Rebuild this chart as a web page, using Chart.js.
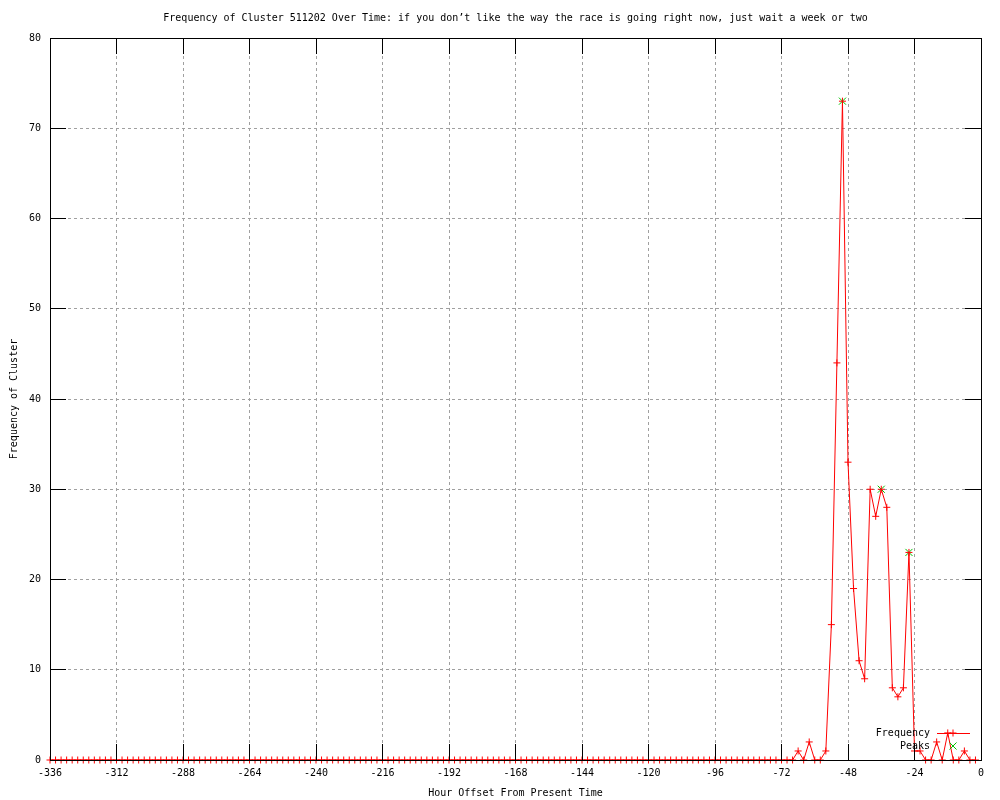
<!DOCTYPE html>
<html lang="en">
<head>
<meta charset="utf-8">
<title>Frequency of Cluster 511202 Over Time</title>
<script src="https://cdn.jsdelivr.net/npm/chart.js@4.4.0/dist/chart.umd.min.js"></script>
<style>
    html, body { margin: 0; padding: 0; background: #fff; }
    #wrap { width: 1000px; height: 800px; }
</style>
</head>
<body>
<div id="wrap"><canvas id="clusterChart"></canvas></div>

<script type="text/javascript">

    const titleText = "Frequency of Cluster 511202 Over Time: if you don\u2019t like the way the race is going right now, just wait a week or two";

    // hour offsets, one sample every 2 hours
    const hours = [
        -336, -334, -332, -330, -328, -326, -324, -322, -320, -318, -316, -314,
        -312, -310, -308, -306, -304, -302, -300, -298, -296, -294, -292, -290,
        -288, -286, -284, -282, -280, -278, -276, -274, -272, -270, -268, -266,
        -264, -262, -260, -258, -256, -254, -252, -250, -248, -246, -244, -242,
        -240, -238, -236, -234, -232, -230, -228, -226, -224, -222, -220, -218,
        -216, -214, -212, -210, -208, -206, -204, -202, -200, -198, -196, -194,
        -192, -190, -188, -186, -184, -182, -180, -178, -176, -174, -172, -170,
        -168, -166, -164, -162, -160, -158, -156, -154, -152, -150, -148, -146,
        -144, -142, -140, -138, -136, -134, -132, -130, -128, -126, -124, -122,
        -120, -118, -116, -114, -112, -110, -108, -106, -104, -102, -100, -98,
        -96, -94, -92, -90, -88, -86, -84, -82, -80, -78, -76, -74,
        -72, -70, -68, -66, -64, -62, -60, -58, -56, -54, -52, -50,
        -48, -46, -44, -42, -40, -38, -36, -34, -32, -30, -28, -26,
        -24, -22, -20, -18, -16, -14, -12, -10, -8, -6, -4, -2
    ];

    const frequency = [
        0, 0, 0, 0, 0, 0, 0, 0, 0, 0, 0, 0,
        0, 0, 0, 0, 0, 0, 0, 0, 0, 0, 0, 0,
        0, 0, 0, 0, 0, 0, 0, 0, 0, 0, 0, 0,
        0, 0, 0, 0, 0, 0, 0, 0, 0, 0, 0, 0,
        0, 0, 0, 0, 0, 0, 0, 0, 0, 0, 0, 0,
        0, 0, 0, 0, 0, 0, 0, 0, 0, 0, 0, 0,
        0, 0, 0, 0, 0, 0, 0, 0, 0, 0, 0, 0,
        0, 0, 0, 0, 0, 0, 0, 0, 0, 0, 0, 0,
        0, 0, 0, 0, 0, 0, 0, 0, 0, 0, 0, 0,
        0, 0, 0, 0, 0, 0, 0, 0, 0, 0, 0, 0,
        0, 0, 0, 0, 0, 0, 0, 0, 0, 0, 0, 0,
        0, 0, 0, 1, 0, 2, 0, 0, 1, 15, 44, 73,
        33, 19, 11, 9, 30, 27, 30, 28, 8, 7, 8, 23,
        1, 1, 0, 0, 2, 0, 3, 0, 0, 1, 0, 0
    ];

    const peakHours = [-50, -36, -26];
    const peakValues = [73, 30, 23];

    const frequencyColor = "#ff0000";
    const peakColor = "#00c000";
    const gridColor = "#a0a0a0";
    const ticLength = 16;

    Chart.defaults.font.family = "'DejaVu Sans Mono', monospace";
    Chart.defaults.font.size = 10;
    Chart.defaults.color = "#000";

    function crisp(p) {
        return Math.round(p - 0.5) + 0.5;
    }

    // gnuplot style: border, inward tics on all four sides, key, title
    const gnuplotFrame = {
        id: "gnuplotFrame",
        afterDatasetsDraw(chart) {
            const ctx = chart.ctx;
            const a = chart.chartArea;
            const x = chart.scales.x;
            const y = chart.scales.y;

            ctx.save();
            ctx.strokeStyle = "#000";
            ctx.lineWidth = 1;
            ctx.beginPath();
            x.ticks.forEach(t => {
                const px = crisp(x.getPixelForValue(t.value));
                ctx.moveTo(px, a.bottom);
                ctx.lineTo(px, a.bottom - ticLength);
                ctx.moveTo(px, a.top);
                ctx.lineTo(px, a.top + ticLength);
            });
            y.ticks.forEach(t => {
                const py = crisp(y.getPixelForValue(t.value));
                ctx.moveTo(a.left, py);
                ctx.lineTo(a.left + ticLength, py);
                ctx.moveTo(a.right, py);
                ctx.lineTo(a.right - ticLength, py);
            });
            ctx.stroke();
            ctx.strokeRect(crisp(a.left), crisp(a.top), Math.round(a.right - a.left), Math.round(a.bottom - a.top));

            // key
            const font = Chart.helpers.toFont(Chart.defaults.font);
            const keyTextX = a.right - 51;
            const keyRow1 = a.bottom - 27;
            const keyRow2 = a.bottom - 14;
            ctx.font = font.string;
            ctx.fillStyle = "#000";
            ctx.textAlign = "right";
            ctx.textBaseline = "middle";
            ctx.fillText("Frequency", keyTextX, keyRow1);
            ctx.fillText("Peaks", keyTextX, keyRow2);

            ctx.strokeStyle = frequencyColor;
            ctx.beginPath();
            ctx.moveTo(a.right - 44, crisp(keyRow1));
            ctx.lineTo(a.right - 11, crisp(keyRow1));
            ctx.stroke();
            Chart.helpers.drawPoint(ctx, {pointStyle: "cross", radius: 3.5, borderWidth: 1}, a.right - 28, keyRow1);
            ctx.strokeStyle = peakColor;
            Chart.helpers.drawPoint(ctx, {pointStyle: "crossRot", radius: 5, borderWidth: 1}, a.right - 28, keyRow2);

            // title
            ctx.textAlign = "center";
            ctx.fillText(titleText, (a.left + a.right) / 2, 18);
            ctx.restore();
        }
    };

    new Chart("clusterChart", {
        type: "line",
        data: {
            datasets: [
                {
                    label: "Frequency",
                    data: hours.map((h, i) => ({x: h, y: frequency[i]})),
                    borderColor: frequencyColor,
                    backgroundColor: frequencyColor,
                    borderWidth: 1,
                    tension: 0,
                    pointStyle: "cross",
                    pointRadius: 3.5,
                    pointHoverRadius: 3.5,
                    pointBorderWidth: 1,
                    clip: false
                },
                {
                    label: "Peaks",
                    data: peakHours.map((h, i) => ({x: h, y: peakValues[i]})),
                    showLine: false,
                    borderColor: peakColor,
                    backgroundColor: peakColor,
                    pointStyle: "crossRot",
                    pointRadius: 5,
                    pointHoverRadius: 5,
                    pointBorderWidth: 1,
                    clip: false
                }
            ]
        },
        options: {
            responsive: true,
            maintainAspectRatio: false,
            animation: false,
            events: [],
            layout: {padding: {top: 38, right: 19, left: 0, bottom: 0}},
            plugins: {
                legend: {display: false},
                title: {display: false},
                tooltip: {enabled: false}
            },
            scales: {
                x: {
                    type: "linear",
                    min: -336,
                    max: 0,
                    ticks: {stepSize: 24, padding: 7, maxRotation: 0, autoSkip: false},
                    grid: {color: gridColor, drawTicks: false},
                    border: {display: false, dash: [3, 3]},
                    title: {display: true, text: "Hour Offset From Present Time", padding: {top: 0, bottom: 1}},
                    afterFit: scale => { scale.height = 40; }
                },
                y: {
                    min: 0,
                    max: 80,
                    ticks: {stepSize: 10, padding: 9},
                    grid: {color: gridColor, drawTicks: false},
                    border: {display: false, dash: [3, 3]},
                    title: {display: true, text: "Frequency of Cluster", padding: {top: 8, bottom: 0}},
                    afterFit: scale => { scale.width = 50; }
                }
            }
        },
        plugins: [gnuplotFrame]
    });

</script>
</body>
</html>
